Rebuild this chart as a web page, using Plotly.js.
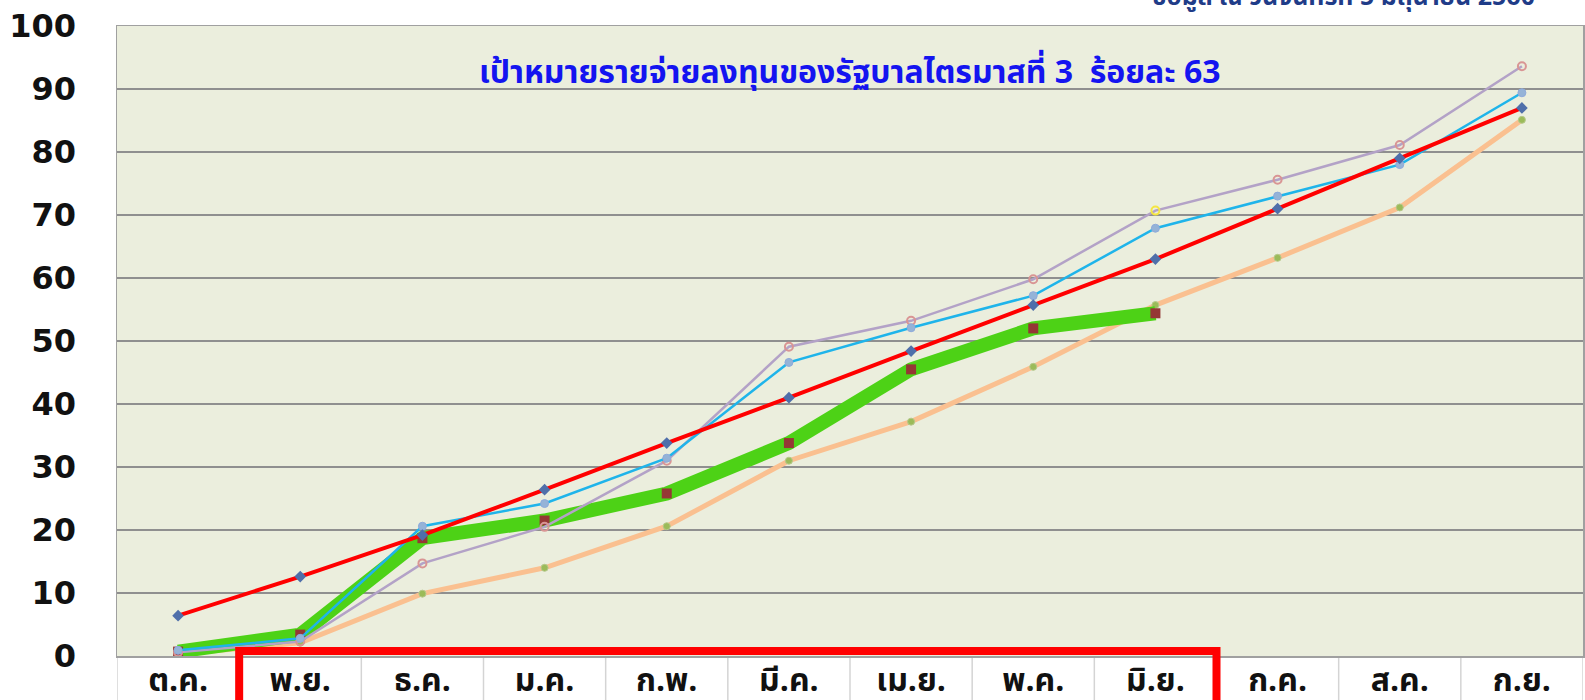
<!DOCTYPE html>
<html>
<head>
<meta charset="utf-8">
<script src="https://cdn.plot.ly/plotly-3.0.1.min.js"></script>
<style>
html,body{margin:0;padding:0;background:#ffffff;}
#chart{width:1585px;height:700px;}
</style>
</head>
<body>
<div id="chart"></div>
<script>
// ----- data -----
const months = ['ต.ค.','พ.ย.','ธ.ค.','ม.ค.','ก.พ.','มี.ค.','เม.ย.','พ.ค.','มิ.ย.','ก.ค.','ส.ค.','ก.ย.'];
const targetSeries = [6.4, 12.6, 19.2, 26.4, 33.8, 41.0, 48.4, 55.7, 63.0, 71.0, 79.0, 87.0];   // red
const cyanSeries   = [0.9, 2.8, 20.6, 24.2, 31.4, 46.6, 52.1, 57.2, 67.9, 73.0, 78.0, 89.4];
const purpleSeries = [0.6, 2.3, 14.7, 20.5, 31.0, 49.1, 53.2, 59.8, 70.7, 75.6, 81.1, 93.6];
const orangeSeries = [0.3, 2.1, 9.9, 14.0, 20.6, 31.0, 37.2, 45.9, 55.7, 63.2, 71.2, 85.1];
const actualMonths = ['ต.ค.','พ.ย.','ธ.ค.','ม.ค.','ก.พ.','มี.ค.','เม.ย.','พ.ค.','มิ.ย.'];
const actualSeries = [0.7, 3.4, 18.7, 21.5, 25.8, 33.8, 45.5, 52.0, 54.4];  // green
const yTicks = [0,10,20,30,40,50,60,70,80,90,100];
const titleText = 'เป้าหมายรายจ่ายลงทุนของรัฐบาลไตรมาสที่ 3  ร้อยละ 63';
const dateText = 'ข้อมูล ณ วันจันทร์ที่ 5 มิถุนายน 2560';

const thaiFont = "Tahoma, 'Noto Sans Thai', 'Noto Sans', 'DejaVu Sans', sans-serif";

const purpleMarkerColors = months.map(m => m === 'มิ.ย.' ? '#F5E642' : '#D99594');

const traces = [
  {x: months, y: orangeSeries, mode:'lines+markers', line:{color:'#FAC090', width:5},
   marker:{symbol:'circle', size:7, color:'#9BBB59', line:{color:'#B5C98A', width:1}}},
  {x: actualMonths, y: actualSeries, mode:'lines+markers', line:{color:'#4DD216', width:14},
   marker:{symbol:'square', size:10, color:'#953735'}},
  {x: months, y: purpleSeries, mode:'lines+markers', line:{color:'#B3A2C7', width:2.5},
   marker:{symbol:'circle-open', size:8, color:purpleMarkerColors, line:{width:2}}},
  {x: months, y: cyanSeries, mode:'lines+markers', line:{color:'#1FB4EA', width:2.5},
   marker:{symbol:'circle', size:8, color:'#95B3D7', line:{color:'#8EAADB', width:1}}},
  {x: months, y: targetSeries, mode:'lines+markers', line:{color:'#FF0000', width:4},
   marker:{symbol:'diamond', size:9, color:'#4F6FAA'}}
];

// cell separators of the category table under the plot
const shapes = [];
for (let i = 0; i <= months.length; i++) {
  shapes.push({type:'line', xref:'x', yref:'paper', x0:i-0.5, x1:i-0.5, y0:0, y1:-0.1,
    line:{color:'#D4D4D4', width:1.5}, layer:'below'});
}
// red highlight frame (พ.ย. – มิ.ย.)
shapes.push({type:'rect', xref:'x', yref:'paper', x0:0.5, x1:8.5, y0:0.008, y1:-0.12,
  line:{color:'#FF0000', width:8}, fillcolor:'rgba(0,0,0,0)', layer:'above'});

const layout = {
  width:1585, height:700,
  margin:{l:117, r:2, t:26, b:44},
  paper_bgcolor:'#FFFFFF', plot_bgcolor:'#EBEEDD',
  showlegend:false,
  xaxis:{type:'category', categoryorder:'array', categoryarray: months, range:[-0.5, 11.5],
    showgrid:false, zeroline:false, showline:true, linecolor:'#A0A0A0', linewidth:1.5, mirror:true,
    ticks:'', ticklen:0, ticklabelstandoff:-5,
    tickfont:{family:thaiFont, size:32, color:'#111111', weight:'bold'}},
  yaxis:{range:[0,100], tickvals:yTicks, ticktext:yTicks.map(String),
    showgrid:true, gridcolor:'#8F8F8F', gridwidth:2, zeroline:false,
    showline:true, linecolor:'#A0A0A0', linewidth:1.5, mirror:true,
    ticks:'outside', ticklen:33, tickcolor:'rgba(0,0,0,0)',
    tickfont:{family:"'DejaVu Sans', Verdana, sans-serif", size:32, color:'#111111', weight:'bold'}},
  shapes: shapes,
  annotations:[
    {text:titleText, xref:'paper', yref:'paper', x:0.5, y:0.925, xanchor:'center', yanchor:'middle',
     showarrow:false, font:{family:thaiFont, size:32, color:'#1414F0', weight:'bold'}},
    {text:dateText, xref:'paper', yref:'paper', x:0.9686, y:1.012, xanchor:'right', yanchor:'bottom',
     showarrow:false, font:{family:thaiFont, size:25, color:'#1F3C88', weight:'bold'}}
  ]
};

Plotly.newPlot('chart', traces, layout, {displayModeBar:false, staticPlot:true});
</script>
</body>
</html>
